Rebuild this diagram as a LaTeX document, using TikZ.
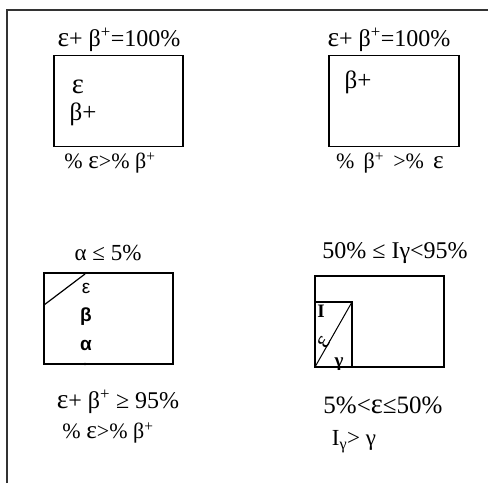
\documentclass[tikz,border=0pt]{standalone}
\usepackage{fontspec}
\setmainfont{Liberation Serif}
\newfontfamily\sansgr{Liberation Sans}
\newcommand\Ep{\scalebox{1.15}{ε}}
\begin{document}
\begin{tikzpicture}[x=1pt,y=-1pt,
  frame/.style={line width=1.6pt,draw=black!80},
  boxx/.style={draw,line width=1.5pt,minimum width=#1,minimum height=91pt,inner sep=0pt},
  fs/.style={font=\fontsize{#1}{#1}\selectfont,inner sep=0pt},
  slab/.style={font=\sansgr\fontsize{19}{20}\selectfont,inner sep=0pt},
  sbold/.style={font=\sansgr\bfseries\fontsize{19}{20}\selectfont,inner sep=0pt}]
\useasboundingbox (0,0) rectangle (488,483);
% frame
\coordinate (ftl) at (7,10);
\coordinate (ftr) at (488,10);
\coordinate (fbl) at (7,483);
\draw[frame] (fbl) -- (ftl) -- (ftr);
% box 1
\node[boxx=129pt] (b1) at (118.5,101) {};
\node[fs=24] (t1) at (119,40) {\Ep+ β\textsuperscript{+}=100\%};
\node[fs=25] (e1) at (78,87) {\Ep};
\node[fs=25] (p1) at (83,114) {β+};
\node[fs=22] (u1) at (110,163) {\% \Ep>\% β\textsuperscript{+}};
% box 2
\node[boxx=130pt] (b2) at (394,101) {};
\node[fs=24] (t2) at (389,40) {\Ep+ β\textsuperscript{+}=100\%};
\node[fs=25] (p2) at (358,82) {β+};
\node[fs=22] (u2) at (390,163) {\% \,β\textsuperscript{+} \,>\% \,\Ep};
% box 3
\node[boxx=129pt] (b3) at (108.5,318.5) {};
\node[fs=23] (t3) at (108,253) {α ≤ 5\%};
\coordinate (d3a) at (44,305);
\coordinate (d3b) at (85,274);
\draw[line width=1.2pt] (d3a) -- (d3b);
\fill (85,364) circle (1.3pt);
\node[slab] (e3) at (86,288) {ε};
\node[sbold] (be3) at (86,317) {β};
\node[sbold] (al3) at (86,345) {α};
\node[fs=24] (u3) at (118,402) {\Ep+ β\textsuperscript{+} ≥ 95\%};
\node[fs=22] (v3) at (108,433) {\% \Ep>\% β\textsuperscript{+}};
% box 4
\node[boxx=129pt] (b4) at (379.5,321.5) {};
\node[fs=24] (t4) at (395,253) {50\% ≤ Iγ<95\%};
\coordinate (i4a) at (315,302);
\coordinate (i4b) at (352,302);
\coordinate (i4c) at (352,367);
\coordinate (i4d) at (315,367);
\draw[line width=1.2pt] (i4a) -- (i4b) -- (i4c);
\draw[line width=1pt] (i4d) -- (i4b);
\node[font=\bfseries\fontsize{19}{20}\selectfont,inner sep=0pt] (I4) at (321,311) {I};
\node[font=\fontsize{24}{24}\selectfont,inner sep=0pt,rotate=60] (e4) at (324,342) {ε};
\node[font=\bfseries\fontsize{19}{20}\selectfont,inner sep=0pt] (g4) at (339,364) {γ};
\node[fs=25] (u4) at (383,405) {5\%<\Ep≤50\%};
\node[fs=23] (v4) at (354,442) {I\textsubscript{γ}> γ};
\end{tikzpicture}
\end{document}
